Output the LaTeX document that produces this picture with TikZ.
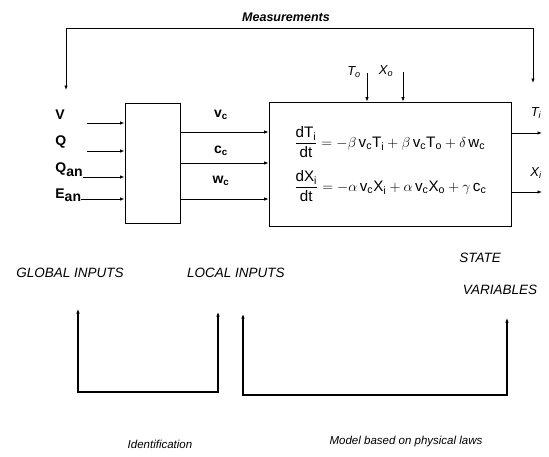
\documentclass[tikz,border=0pt]{standalone}
\usepackage{amsmath}
\usepackage{fontspec}
\setmainfont{Liberation Sans}
\setsansfont{Liberation Sans}
\usetikzlibrary{positioning, arrows.meta}
\newcommand{\sv}[2]{\mathsf{#1}_{\mathsf{#2}}}

\begin{document}
\begin{tikzpicture}[x=1pt, y=-1pt, line width=0.8pt,
    >={Latex[length=4.5pt, width=3.5pt]},
    blockbox/.style={draw, inner sep=0pt},
    capslabel/.style={font=\itshape\fontsize{13.5}{15}\selectfont},
    notelabel/.style={font=\itshape\fontsize{11.5}{13}\selectfont},
    inlabel/.style={anchor=west, font=\bfseries\fontsize{14}{16}\selectfont, inner sep=0pt},
    flowlabel/.style={font=\bfseries\fontsize{14}{16}\selectfont},
    varlabel/.style={font=\itshape\fontsize{13}{15}\selectfont},
    eqlabel/.style={anchor=west, font=\fontsize{15.2}{17}\selectfont, inner sep=0pt},
    bracket/.style={<->, line width=1.2pt}]
  \useasboundingbox (0,0) rectangle (549,456);

  % blocks
  \node[blockbox, line width=1pt, minimum width=55pt, minimum height=120pt] (ident) at (152.5,163) {};
  \node[blockbox, minimum width=242pt, minimum height=124pt] (model) at (390,164) {};

  % global inputs
  \node[inlabel] (V) at (55,115) {V};
  \node[inlabel] (Q) at (55,142) {Q};
  \node[inlabel] (Qan) at (55,170) {Q\raisebox{-4pt}{an}};
  \node[inlabel] (Ean) at (55,195) {E\raisebox{-3pt}{an}};
  \coordinate (Vin) at (87,123);
  \coordinate (Qin) at (87,151);
  \coordinate (Qanin) at (Qan.east |- 0,177);
  \coordinate (Eanin) at (Ean.east |- 0,199);
  \foreach \src in {Vin, Qin, Qanin, Eanin}
    \draw[->] (\src) -- (\src -| ident.west);

  % local inputs
  \node[flowlabel] (vc) at (221,115) {v\textsubscript{c}};
  \node[flowlabel] (cc) at (221,151) {c\textsubscript{c}};
  \node[flowlabel] (wc) at (221,181) {w\textsubscript{c}};
  \draw[->] (ident.east |- 0,132) -- (model.west |- 0,132);
  \draw[->] (ident.east |- 0,163) -- (model.west |- 0,163);
  \draw[->] (ident.east |- 0,199) -- (model.west |- 0,199);

  % model equations
  \node[eqlabel] (eqT) at (294,142)
    {$\dfrac{\mathsf{d}\sv{T}{i}}{\mathsf{dt}} = -\beta\,\sv{v}{c}\sv{T}{i} + \beta\,\sv{v}{c}\sv{T}{o} + \delta\,\sv{w}{c}$};
  \node[eqlabel] (eqX) at (294,186)
    {$\dfrac{\mathsf{d}\sv{X}{i}}{\mathsf{dt}} = -\alpha\,\sv{v}{c}\sv{X}{i} + \alpha\,\sv{v}{c}\sv{X}{o} + \gamma\,\sv{c}{c}$};

  % inlet values
  \node[varlabel] (To) at (354,72) {T\textsubscript{o}};
  \node[varlabel] (Xo) at (386,71) {X\textsubscript{o}};
  \coordinate (Toin) at (367,73);
  \coordinate (Xoin) at (403,72);
  \draw[->] (Toin) -- (Toin |- model.north);
  \draw[->] (Xoin) -- (Xoin |- model.north);

  % state outputs
  \coordinate (Tiout) at (542,133);
  \coordinate (Xiout) at (542,192);
  \draw[->] (model.east |- Tiout) -- (Tiout);
  \draw[->] (model.east |- Xiout) -- (Xiout);
  \node[varlabel] (Ti) at (536,113) {T\textsubscript{i}};
  \node[varlabel] (Xi) at (536,173) {X\textsubscript{i}};

  % measurements loop
  \node[font=\bfseries\itshape\fontsize{12.5}{14}\selectfont] (meas) at (286,17) {Measurements};
  \coordinate (mtop) at (0,28);
  \coordinate (mL) at (66,90);
  \coordinate (mR) at (533,83);
  \draw[<->] (mL) -- (mL |- mtop) -- (mR |- mtop) -- (mR);

  % lower labels
  \node[capslabel] (glob) at (70,273) {GLOBAL INPUTS};
  \node[capslabel] (loc) at (236,273) {LOCAL INPUTS};
  \node[capslabel] (state) at (480,258) {STATE};
  \node[capslabel] (vars) at (500,290) {VARIABLES};

  % brackets
  \coordinate (idL) at (78,309);
  \coordinate (idR) at (218,312);
  \coordinate (idB) at (0,392);
  \draw[bracket] (idL) -- (idL |- idB) -- (idR |- idB) -- (idR);
  \coordinate (phL) at (243,314);
  \coordinate (phR) at (507,318);
  \coordinate (phB) at (0,395);
  \draw[bracket] (phL) -- (phL |- phB) -- (phR |- phB) -- (phR);
  \node[notelabel] (idtxt) at (160,444) {Identification};
  \node[notelabel] (phtxt) at (406,442) {Model based on physical laws};
\end{tikzpicture}
\end{document}
